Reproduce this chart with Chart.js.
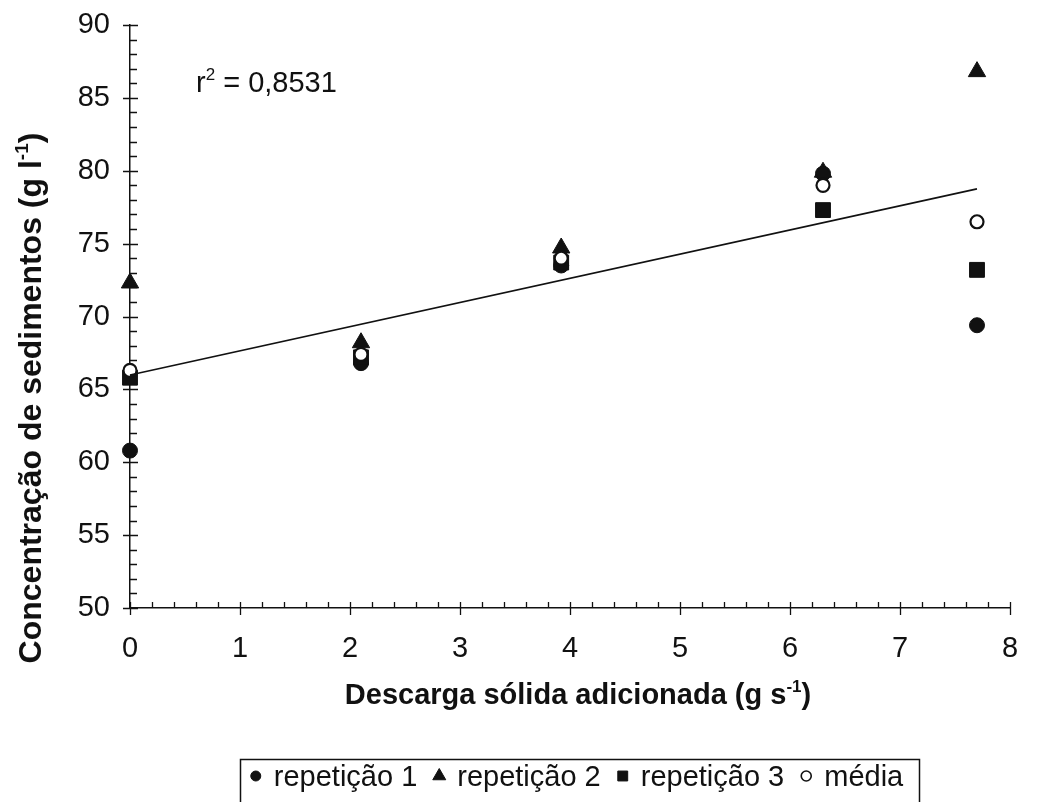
<!DOCTYPE html>
<html>
<head>
<meta charset="utf-8">
<script src="https://cdn.jsdelivr.net/npm/chart.js@4.4.1/dist/chart.umd.min.js"></script>
<style>
html,body{margin:0;padding:0;background:#fff;overflow:hidden}
#wrap{width:1046px;height:802px;position:relative}
</style>
</head>
<body>
<div id="wrap"><canvas id="c" width="1046" height="802"></canvas></div>
<script>
// ---------- data ----------
const xValues = [0, 2.1, 3.92, 6.3, 7.7];            // descarga sólida adicionada (g s-1)
const rep1    = [60.8, 66.8, 73.5, 79.8, 69.4];      // repetição 1
const rep2    = [72.3, 68.2, 74.7, 79.9, 86.8];      // repetição 2
const rep3    = [65.8, 67.2, 73.7, 77.3, 73.2];      // repetição 3
const media   = [66.3, 67.4, 74.0, 79.0, 76.5];      // média
const seriesNames = ['repetição 1', 'repetição 2', 'repetição 3', 'média'];
const xTickValues = [0, 1, 2, 3, 4, 5, 6, 7, 8];
const yTickValues = [50, 55, 60, 65, 70, 75, 80, 85, 90];
const r2Label = [{t: 'r'}, {t: '2', sup: true}, {t: ' = 0,8531'}];
const xTitle = [{t: 'Descarga sólida adicionada (g s'}, {t: '-1', sup: true}, {t: ')'}];
const yTitle = [{t: 'Concentração de sedimentos (g l'}, {t: '-1', sup: true}, {t: ')'}];

// ---------- styling ----------
const FONT = '"Liberation Sans", Arial, Helvetica, sans-serif';
const INK = '#111';

function pts(ys) { return xValues.map((x, i) => ({x: x, y: ys[i]})); }

// least-squares trend line through all replicate points
function trend() {
  const xs = [], ys = [];
  [rep1, rep2, rep3].forEach(r => r.forEach((v, i) => { xs.push(xValues[i]); ys.push(v); }));
  const n = xs.length;
  const mx = xs.reduce((a, b) => a + b, 0) / n;
  const my = ys.reduce((a, b) => a + b, 0) / n;
  let sxy = 0, sxx = 0;
  for (let i = 0; i < n; i++) { sxy += (xs[i] - mx) * (ys[i] - my); sxx += (xs[i] - mx) * (xs[i] - mx); }
  const b = sxy / sxx, a = my - b * mx;
  const x0 = Math.min(...xValues), x1 = Math.max(...xValues);
  return [{x: x0, y: a + b * x0}, {x: x1, y: a + b * x1}];
}

const markerStyles = [
  {pointStyle: 'circle',   radius: 7.5, bg: INK,    bw: 1, lr: 5},
  {pointStyle: 'triangle', radius: 10,  bg: INK,    bw: 1, lr: 7.5},
  {pointStyle: 'rect',     radius: 10.5,bg: INK,    bw: 1, lr: 7},
  {pointStyle: 'circle',   radius: 6.5, bg: '#fff', bw: 2.2, lr: 5}
];
const seriesData = [rep1, rep2, rep3, media];

const datasets = seriesData.map((d, i) => ({
  label: seriesNames[i],
  data: pts(d),
  pointStyle: markerStyles[i].pointStyle,
  pointRadius: markerStyles[i].radius,
  pointHoverRadius: markerStyles[i].radius,
  backgroundColor: markerStyles[i].bg,
  borderColor: INK,
  borderWidth: markerStyles[i].bw,
  showLine: false,
  clip: false,
  order: 4 - i
}));
datasets.push({
  label: 'tendência',
  data: trend(),
  showLine: true,
  pointRadius: 0,
  borderColor: INK,
  borderWidth: 1.6,
  fill: false,
  clip: false,
  order: 0
});

// ---------- text helpers ----------
function segFont(s, size, weight) { return `${weight} ${s.sup ? Math.round(size * 0.6) : size}px ${FONT}`; }
function richWidth(ctx, segs, size, weight) {
  let w = 0;
  for (const s of segs) { ctx.font = segFont(s, size, weight); w += ctx.measureText(s.t).width; }
  return w;
}
function drawRich(ctx, segs, x, y, size, weight, align) {
  const w = richWidth(ctx, segs, size, weight);
  let cx = align === 'center' ? x - w / 2 : x;
  ctx.textAlign = 'left';
  ctx.textBaseline = 'alphabetic';
  for (const s of segs) {
    ctx.font = segFont(s, size, weight);
    ctx.fillText(s.t, cx, s.sup ? y - size * 0.42 : y);
    cx += ctx.measureText(s.t).width;
  }
}

// ---------- plugin: tick marks, titles, annotation, legend ----------
const decor = {
  id: 'decor',
  afterDraw(chart) {
    const ctx = chart.ctx;
    const xs = chart.scales.x, ys = chart.scales.y;
    const ax = xs.left, ay = ys.bottom;
    ctx.save();
    ctx.strokeStyle = INK;
    ctx.fillStyle = INK;
    ctx.lineWidth = 1.3;
    ctx.beginPath();
    // y axis ticks
    for (let v = ys.min; v <= ys.max + 1e-9; v += 1) {
      const p = Math.round(ys.getPixelForValue(v)) + 0.5;
      if (Math.abs(v % 5) < 1e-9) { ctx.moveTo(ax - 7, p); ctx.lineTo(ax + 8, p); }
      else { ctx.moveTo(ax, p); ctx.lineTo(ax + 7, p); }
    }
    // x axis ticks
    for (let k = 0; k <= (xs.max - xs.min) * 5; k++) {
      const v = xs.min + k * 0.2;
      const p = Math.round(xs.getPixelForValue(v)) + 0.5;
      if (k % 5 === 0) { ctx.moveTo(p, ay - 6); ctx.lineTo(p, ay + 7); }
      else { ctx.moveTo(p, ay - 6); ctx.lineTo(p, ay); }
    }
    ctx.stroke();

    // axis titles
    drawRich(ctx, xTitle, 578, 704, 29, 'bold', 'center');
    ctx.save();
    ctx.translate(41, 398);
    ctx.rotate(-Math.PI / 2);
    drawRich(ctx, yTitle, 0, 0, 32, 'bold', 'center');
    ctx.restore();

    // r² annotation
    drawRich(ctx, r2Label, 196, 92, 29, 'normal', 'left');

    // legend
    const L = 240, R = 919, T = 759, cy = 776, base = 786, fs = 29;
    ctx.lineWidth = 1.5;
    ctx.strokeRect(L + 0.5, T + 0.5, R - L, 80);
    ctx.font = `normal ${fs}px ${FONT}`;
    const widths = seriesNames.map(n => ctx.measureText(n).width);
    const gapIn = 18, gapOut = 22;
    let total = 0;
    widths.forEach((w, i) => { total += gapIn + w + (i < widths.length - 1 ? gapOut : 0); });
    let x = (L + R) / 2 - (total + 10) / 2 + 5;
    seriesNames.forEach((n, i) => {
      const m = markerStyles[i];
      ctx.fillStyle = m.bg;
      ctx.strokeStyle = INK;
      ctx.lineWidth = m.bg === '#fff' ? 1.6 : 1;
      Chart.helpers.drawPoint(ctx, {pointStyle: m.pointStyle, radius: m.lr, rotation: 0, borderWidth: ctx.lineWidth}, x, cy);
      ctx.fillStyle = INK;
      ctx.font = `normal ${fs}px ${FONT}`;
      ctx.textAlign = 'left';
      ctx.textBaseline = 'alphabetic';
      ctx.fillText(n, x + gapIn, base);
      x += gapIn + widths[i] + gapOut;
    });
    ctx.restore();
  }
};

new Chart(document.getElementById('c'), {
  type: 'scatter',
  data: {datasets: datasets},
  options: {
    responsive: false,
    animation: false,
    devicePixelRatio: 1,
    layout: {padding: {top: 25, right: 36, left: 0, bottom: 0}},
    plugins: {legend: {display: false}, tooltip: {enabled: false}, title: {display: false}},
    scales: {
      x: {
        type: 'linear', min: 0, max: 8,
        afterBuildTicks: s => { s.ticks = xTickValues.map(v => ({value: v})); },
        afterFit: s => { s.height = 194; s.paddingLeft = 0; s.paddingRight = 0; },
        ticks: {color: INK, font: {family: FONT, size: 29}, padding: 24},
        grid: {display: false, drawTicks: false},
        border: {display: true, color: INK, width: 1.5}
      },
      y: {
        type: 'linear', min: 50, max: 90,
        afterBuildTicks: s => { s.ticks = yTickValues.map(v => ({value: v})); },
        afterFit: s => { s.width = 130; s.paddingTop = 0; s.paddingBottom = 0; },
        ticks: {color: INK, font: {family: FONT, size: 29}, padding: 20},
        grid: {display: false, drawTicks: false},
        border: {display: true, color: INK, width: 1.5}
      }
    }
  },
  plugins: [decor]
});
</script>
</body>
</html>
